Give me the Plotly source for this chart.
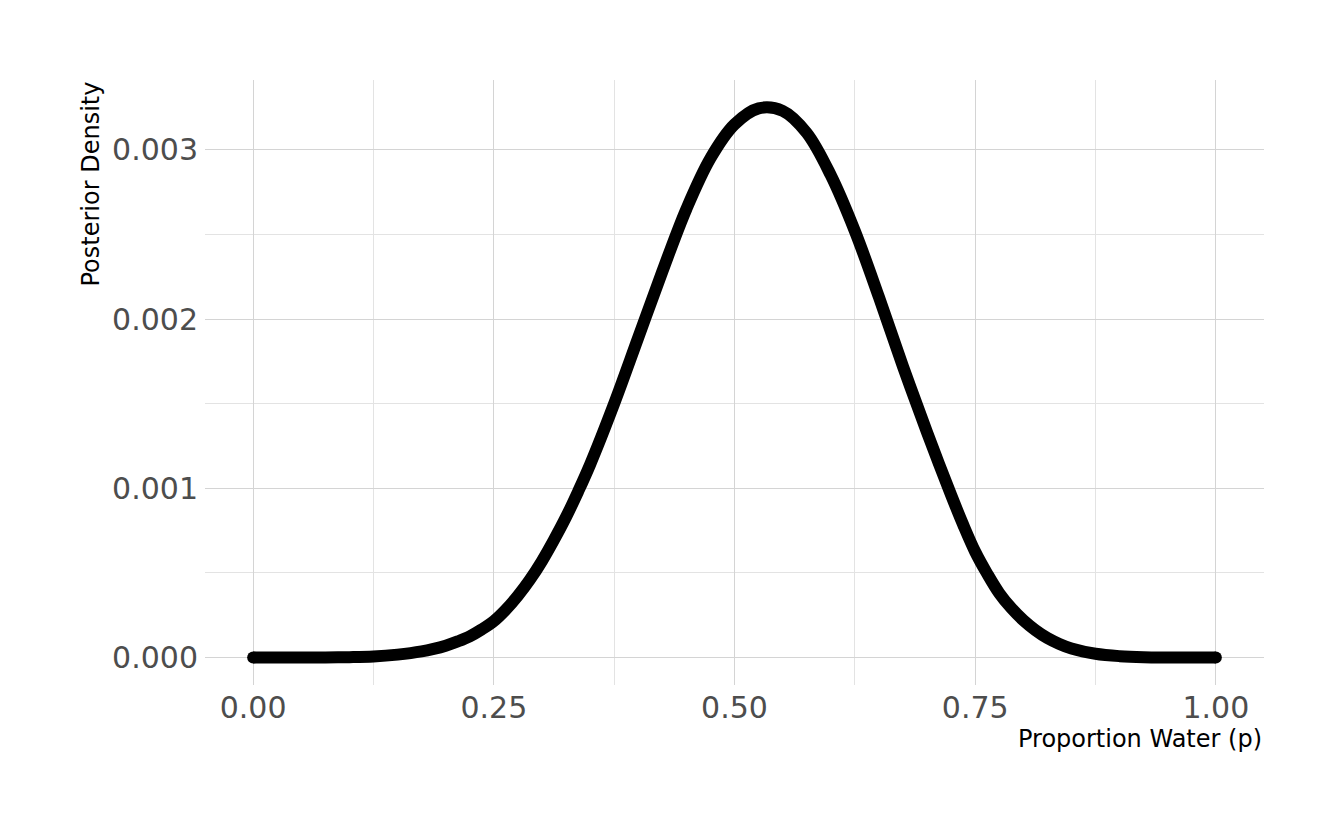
import plotly.graph_objects as go

# Values (posterior density on a grid of p)
p_grid = [0.000, 0.025, 0.050, 0.075, 0.100, 0.125, 0.150, 0.175, 0.1875, 0.200,
          0.2125, 0.225, 0.2375, 0.250, 0.2625, 0.275, 0.2875, 0.300, 0.3125, 0.325,
          0.3375, 0.350, 0.375, 0.400, 0.425, 0.450, 0.475, 0.500, 0.525, 0.550,
          0.575, 0.600, 0.625, 0.650, 0.675, 0.700, 0.7125, 0.725, 0.7375, 0.750,
          0.7625, 0.775, 0.7875, 0.800, 0.8125, 0.825, 0.8375, 0.850, 0.875, 0.900,
          0.925, 0.950, 0.975, 1.000]
posterior = [0.0, 0.0, 0.0, 0.0000005, 0.000002, 0.000006, 0.000017, 0.000036, 0.000051, 0.000070,
             0.000095, 0.000125, 0.000166, 0.000215, 0.000283, 0.000365, 0.000460, 0.000570, 0.000695, 0.000830,
             0.000980, 0.001140, 0.001500, 0.001890, 0.002280, 0.002650, 0.002950, 0.003150, 0.003245, 0.003230,
             0.003100, 0.002850, 0.002520, 0.002130, 0.001720, 0.001330, 0.001143, 0.000960, 0.000785, 0.000625,
             0.000495, 0.000380, 0.000292, 0.000220, 0.000162, 0.000115, 0.000080, 0.000053, 0.000022, 0.000008,
             0.000002, 0.0000005, 0.0, 0.0]

x_ticks = [0.0, 0.25, 0.5, 0.75, 1.0]
x_tick_labels = ["0.00", "0.25", "0.50", "0.75", "1.00"]
y_ticks = [0.0, 0.001, 0.002, 0.003]
y_tick_labels = ["0.000", "0.001", "0.002", "0.003"]
x_minor = [0.125, 0.375, 0.625, 0.875]
y_minor = [0.0005, 0.0015, 0.0025]

FONT = "DejaVu Sans"
fig = go.Figure()

fig.add_trace(go.Scatter(
    x=p_grid, y=posterior, mode="lines",
    line=dict(color="black", width=12, shape="spline", smoothing=1.0),
    hoverinfo="skip", showlegend=False,
))
# round end caps
fig.add_trace(go.Scatter(
    x=[p_grid[0], p_grid[-1]], y=[posterior[0], posterior[-1]], mode="markers",
    marker=dict(color="black", size=12), hoverinfo="skip", showlegend=False,
))

fig.update_layout(
    width=1336, height=822,
    margin=dict(l=197, r=80, t=72, b=145),
    paper_bgcolor="white", plot_bgcolor="white",
    font=dict(family=FONT),
    xaxis=dict(
        range=[-0.05, 1.05], tickvals=x_ticks, ticktext=x_tick_labels,
        showgrid=True, gridcolor="#d4d4d4", gridwidth=1.1, zeroline=False,
        showline=False, ticks="", ticklabelstandoff=2,
        tickfont=dict(family=FONT, size=30, color="#4d4d4d"),
        minor=dict(tickvals=x_minor, showgrid=True, gridcolor="#e3e3e3", gridwidth=1),
    ),
    yaxis=dict(
        range=[-0.0001625, 0.0034125], tickvals=y_ticks, ticktext=y_tick_labels,
        showgrid=True, gridcolor="#d4d4d4", gridwidth=1.1, zeroline=False,
        showline=False, ticks="", ticklabelstandoff=6,
        tickfont=dict(family=FONT, size=30, color="#4d4d4d"),
        minor=dict(tickvals=y_minor, showgrid=True, gridcolor="#e3e3e3", gridwidth=1),
    ),
    annotations=[
        dict(text="Proportion Water (p)", xref="paper", yref="paper", x=1, y=0,
             xanchor="right", yanchor="top", yshift=-38, showarrow=False,
             font=dict(family=FONT, size=24, color="black")),
        dict(text="Posterior Density", xref="paper", yref="paper", x=0, y=1,
             xanchor="center", yanchor="top", xshift=-115, showarrow=False,
             textangle=-90, font=dict(family=FONT, size=24, color="black")),
    ],
)

fig.write_html("out.html")
